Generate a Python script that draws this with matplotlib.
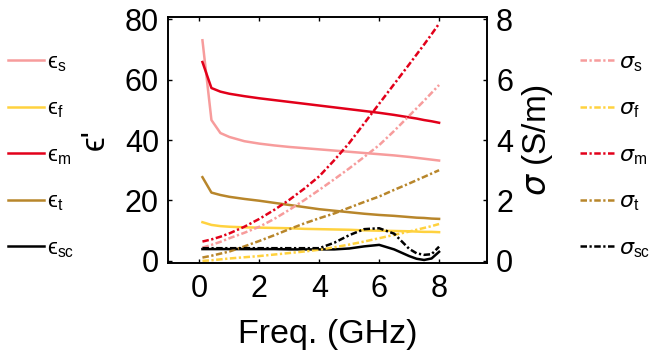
import matplotlib
matplotlib.use("Agg")
import matplotlib.pyplot as plt

plt.rcParams['font.family'] = ['Liberation Sans', 'DejaVu Sans']
plt.rcParams['mathtext.fontset'] = 'dejavusans'

# Data
freq = [0.1, 0.4, 0.7, 1.0, 1.5, 2.0, 2.5, 3.0, 3.5, 4.0, 4.5, 5.0, 5.5, 6.0,
        6.5, 7.0, 7.25, 7.5, 7.75, 8.0]

eps_s = [73.0, 46.6, 42.3, 41.0, 39.6, 38.8, 38.2, 37.7, 37.3, 36.9, 36.5, 36.1,
         35.7, 35.3, 34.9, 34.4, 34.1, 33.8, 33.5, 33.2]
eps_f = [12.8, 11.9, 11.5, 11.3, 11.1, 11.0, 10.9, 10.8, 10.6, 10.5, 10.4, 10.3,
         10.1, 10.0, 9.9, 9.8, 9.7, 9.6, 9.6, 9.5]
eps_m = [65.8, 57.2, 56.0, 55.3, 54.5, 53.8, 53.2, 52.6, 52.0, 51.4, 50.8, 50.2,
         49.6, 49.0, 48.3, 47.5, 47.1, 46.6, 46.2, 45.7]
eps_t = [27.7, 22.6, 21.8, 21.2, 20.5, 19.9, 19.2, 18.5, 17.8, 17.1, 16.6, 16.1,
         15.6, 15.2, 14.9, 14.5, 14.3, 14.2, 14.0, 13.9]
eps_sc = [3.9, 3.9, 3.9, 3.9, 3.9, 3.9, 3.9, 3.8, 3.8, 3.8, 3.8, 4.1, 4.8, 5.3,
          3.8, 1.6, 0.7, 0.3, 0.8, 3.0]

sig_s = [0.44, 0.53, 0.63, 0.75, 0.93, 1.13, 1.39, 1.69, 2.01, 2.35, 2.70, 3.06,
         3.44, 3.83, 4.30, 4.80, 5.05, 5.30, 5.56, 5.82]
sig_f = [0.00, 0.02, 0.05, 0.08, 0.12, 0.16, 0.21, 0.26, 0.31, 0.37, 0.45, 0.54,
         0.64, 0.75, 0.86, 0.97, 1.03, 1.09, 1.15, 1.22]
sig_m = [0.64, 0.71, 0.80, 0.91, 1.13, 1.39, 1.69, 2.02, 2.39, 2.80, 3.33, 3.90,
         4.55, 5.20, 5.85, 6.50, 6.83, 7.16, 7.50, 7.85]
sig_t = [0.11, 0.17, 0.24, 0.31, 0.48, 0.66, 0.85, 1.05, 1.24, 1.41, 1.57, 1.76,
         1.95, 2.13, 2.35, 2.56, 2.67, 2.78, 2.89, 3.00]
sig_sc = [0.42, 0.42, 0.42, 0.42, 0.42, 0.42, 0.42, 0.42, 0.42, 0.42, 0.60, 0.85,
          1.05, 1.08, 0.90, 0.40, 0.25, 0.20, 0.22, 0.47]

names = ['s', 'f', 'm', 't', 'sc']
colors = ['#F79C9C', '#FFD23F', '#E2001A', '#B8862B', '#000000']
eps_all = [eps_s, eps_f, eps_m, eps_t, eps_sc]
sig_all = [sig_s, sig_f, sig_m, sig_t, sig_sc]

fig = plt.figure(figsize=(6.58, 3.58), dpi=100)
ax = fig.add_axes([168/658, 1 - 263/358, 319/658, 246/358])
ax2 = ax.twinx()

h1 = []
h2 = []
for name, c, e, s in zip(names, colors, eps_all, sig_all):
    l1, = ax.plot(freq, e, color=c, lw=1.8, label='ϵ$_\\mathregular{%s}$' % name)
    l2, = ax2.plot(freq, s, color=c, lw=1.8, dashes=[2.6, 1.0, 0.9, 1.0],
                   label=r'$\sigma_\mathregular{%s}$' % name)
    h1.append(l1)
    h2.append(l2)

ax.set_xlim(-1.05, 9.6)
ax.set_ylim(-0.7, 80.7)
ax2.set_ylim(-0.07, 8.07)
ax.set_xticks([0, 2, 4, 6, 8])
ax.set_yticks([0, 20, 40, 60, 80])
ax2.set_yticks([0, 2, 4, 6, 8])

ax.tick_params(axis='x', direction='in', length=3, width=1, labelsize=22, top=True, pad=8)
ax.tick_params(axis='y', direction='in', length=3, width=1, labelsize=22, pad=6.5)
ax2.tick_params(direction='in', length=3, width=1, labelsize=22, pad=6.5)
for a in (ax, ax2):
    for sp in a.spines.values():
        sp.set_linewidth(1.2)

ax.set_xlabel('Freq. (GHz)', fontsize=24.5, labelpad=11)
ax.set_ylabel("ϵ'", fontsize=24, labelpad=10)
ax2.set_ylabel(r'$\sigma$ (S/m)', fontsize=24, labelpad=5)

fig.legend(handles=h1, loc='center left', bbox_to_anchor=(8/658, 1 - 156/358),
           frameon=False, fontsize=16, handlelength=1.6, handletextpad=0.15,
           borderpad=0, borderaxespad=0, labelspacing=1.12)
fig.legend(handles=h2, loc='center left', bbox_to_anchor=(580/658, 1 - 156/358),
           frameon=False, fontsize=16, handlelength=1.6, handletextpad=0.15,
           borderpad=0, borderaxespad=0, labelspacing=1.12)

fig.savefig('out.png', dpi=100)
